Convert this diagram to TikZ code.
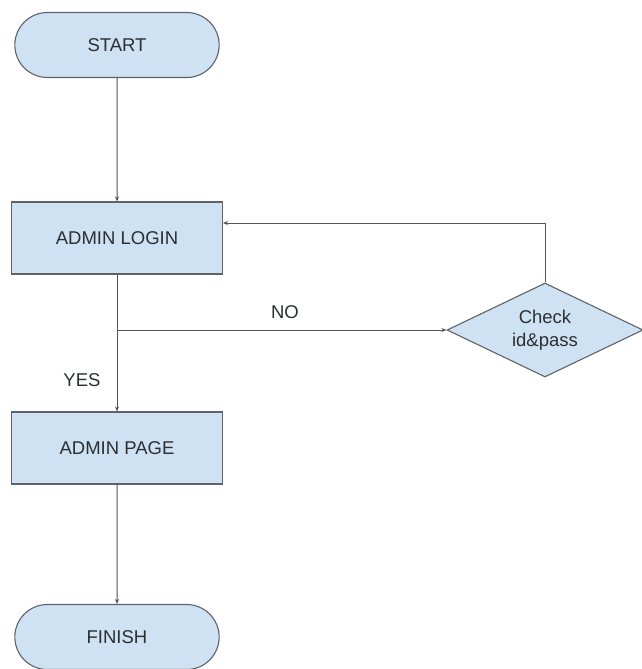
\documentclass[tikz,border=0pt]{standalone}
\usepackage{fontspec}
\setmainfont{Liberation Sans}
\usetikzlibrary{shapes.misc,shapes.geometric,arrows.meta}
\definecolor{boxfill}{HTML}{CFE2F3}
\definecolor{boxline}{HTML}{5F6368}
\definecolor{boxtext}{HTML}{2B2F33}
\tikzset{
  terminal/.style={rounded rectangle, draw=boxline, fill=boxfill, line width=1.1pt,
    minimum width=211pt, minimum height=65pt, text=boxtext},
  process/.style={rectangle, draw=boxline, fill=boxfill, line width=1.1pt,
    minimum width=211pt, minimum height=72pt, text=boxtext},
  decision/.style={diamond, draw=boxline, fill=boxfill, line width=1.1pt, aspect=2.1,
    inner sep=0pt, minimum width=196pt, minimum height=94pt, text=boxtext, align=center},
  flow/.style={draw=boxline!85!black, line width=1pt, -{Stealth[length=5pt,width=4pt]}},
  label/.style={text=boxtext}
}
\begin{document}
\begin{tikzpicture}[x=1pt,y=-1pt,font=\fontsize{18.5}{23}\selectfont]
  \useasboundingbox[fill=white] (0,0) rectangle (641,669);
  \node[terminal] (start) at (117,45) {START};
  \node[process] (login) at (117,238) {ADMIN LOGIN};
  \node[decision] (check) at (545,330) {Check\\id\&pass};
  \node[process] (page) at (117,448) {ADMIN PAGE};
  \node[terminal] (finish) at (117,637) {FINISH};
  \coordinate (split) at (117,330);
  \coordinate (back) at (223,223);
  \draw[flow] (start) -- (login);
  \draw[flow] (login) -- (page);
  \draw[flow] (split) -- (check);
  \draw[flow] (check.north) |- (back);
  \draw[flow] (page) -- (finish);
  \node[label] (no) at (285,312) {NO};
  \node[label] (yes) at (82,380) {YES};
\end{tikzpicture}
\end{document}
